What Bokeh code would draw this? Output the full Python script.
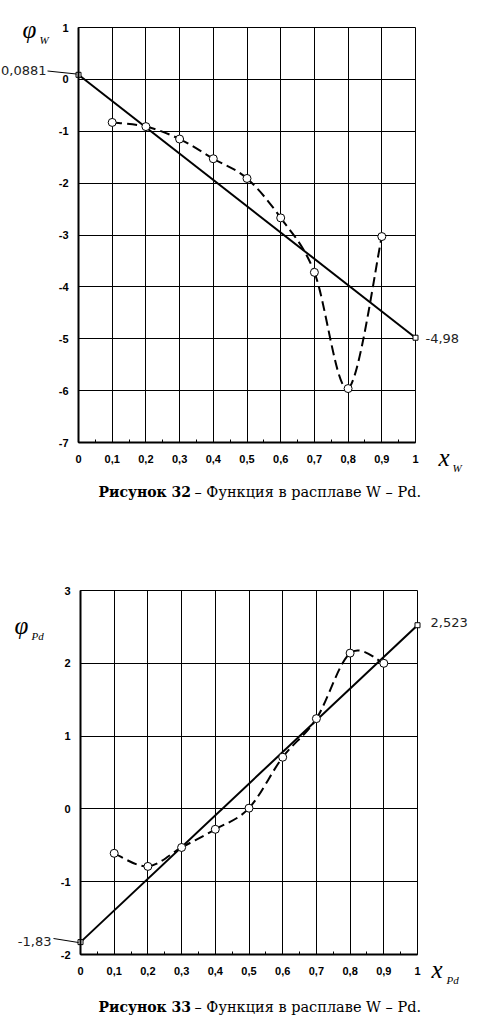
from bokeh.plotting import figure
from bokeh.models import FixedTicker, Label, Grid
from bokeh.layouts import column
from bokeh.embed import file_html
from bokeh.resources import INLINE

# ---------------- data ----------------
x_points = [0.1, 0.2, 0.3, 0.4, 0.5, 0.6, 0.7, 0.8, 0.9]
phi_w = [-0.83, -0.91, -1.15, -1.53, -1.91, -2.67, -3.72, -5.96, -3.03]
phi_pd = [-0.61, -0.79, -0.53, -0.28, 0.01, 0.71, 1.24, 2.14, 2.00]

line_x = [0, 1]
line_w = [0.0881, -4.98]
line_pd = [-1.83, 2.523]
line_w_labels = ["0,0881", "-4,98"]
line_pd_labels = ["-1,83", "2,523"]

x_ticks = [0, 0.1, 0.2, 0.3, 0.4, 0.5, 0.6, 0.7, 0.8, 0.9, 1]
x_tick_labels = ["0", "0,1", "0,2", "0,3", "0,4", "0,5", "0,6", "0,7", "0,8", "0,9", "1"]
x_minor = [0.05, 0.15, 0.25, 0.35, 0.45, 0.55, 0.65, 0.75, 0.85, 0.95]
w_y_ticks = [-7, -6, -5, -4, -3, -2, -1, 0, 1]
w_y_labels = ["-7", "-6", "-5", "-4", "-3", "-2", "-1", "0", "1"]
pd_y_ticks = [-2, -1, 0, 1, 2, 3]
pd_y_labels = ["-2", "-1", "0", "1", "2", "3"]

caption_bold = ["Рисунок 32", "Рисунок 33"]
caption_rest = "– Функция  в расплаве W – Pd."

TICK_FONT = "Liberation Sans"
SERIF = "Liberation Serif"
CAP_FONT = "DejaVu Serif"
VAL_FONT = "DejaVu Sans"
W = 481


def smooth(xs, ys):
    """Bezier control points for the chart's smoothed line (Catmull-Rom)."""
    n = len(xs)
    out = dict(x0=[], y0=[], x1=[], y1=[], cx0=[], cy0=[], cx1=[], cy1=[])
    for i in range(n - 1):
        xp, yp = (xs[i - 1], ys[i - 1]) if i > 0 else (xs[i], ys[i])
        xn, yn = (xs[i + 2], ys[i + 2]) if i + 2 < n else (xs[i + 1], ys[i + 1])
        out["x0"].append(xs[i]); out["y0"].append(ys[i])
        out["x1"].append(xs[i + 1]); out["y1"].append(ys[i + 1])
        out["cx0"].append(xs[i] + (xs[i + 1] - xp) / 6)
        out["cy0"].append(ys[i] + (ys[i + 1] - yp) / 6)
        out["cx1"].append(xs[i + 1] - (xn - xs[i]) / 6)
        out["cy1"].append(ys[i + 1] - (yn - ys[i]) / 6)
    return out


class Frame:
    """Maps canvas pixels to data for a plot box placed at given pixels."""
    def __init__(self, left, right, top, bottom, height, ylo, yhi):
        self.l, self.r, self.t, self.b, self.h = left, right, top, bottom, height
        self.ylo, self.yhi = ylo, yhi
        self.sx = 1.0 / (right - left)
        self.sy = (yhi - ylo) / float(bottom - top)

    def X(self, px):
        return (px - self.l) * self.sx

    def Y(self, py):
        return self.yhi - (py - self.t) * self.sy


def make_fig(fr, yticks, ylabels):
    p = figure(width=W, height=fr.h,
               x_range=(fr.X(0), fr.X(W)), y_range=(fr.Y(fr.h), fr.Y(0)),
               output_backend="svg", toolbar_location=None, min_border=0)
    p.background_fill_color = "white"
    p.border_fill_color = "white"
    p.outline_line_color = None

    xa, ya = p.xaxis[0], p.yaxis[0]
    xa.fixed_location = fr.ylo
    xa.bounds = (0, 1)
    ya.fixed_location = 0
    ya.bounds = (fr.ylo, fr.yhi)
    xa.ticker = FixedTicker(ticks=x_ticks, minor_ticks=x_minor)
    xa.major_label_overrides = {t: l for t, l in zip(x_ticks, x_tick_labels)}
    ya.ticker = FixedTicker(ticks=yticks)
    ya.major_label_overrides = {t: l for t, l in zip(yticks, ylabels)}
    for ax in (xa, ya):
        ax.axis_line_width = 2
        ax.axis_line_color = "black"
        ax.major_tick_in = 3
        ax.major_tick_out = 0
        ax.major_tick_line_color = "black"
        ax.major_label_text_font = TICK_FONT
        ax.major_label_text_font_style = "bold"
        ax.major_label_text_font_size = "11px"
        ax.major_label_text_color = "black"
    xa.minor_tick_in = 3
    xa.minor_tick_out = 0
    xa.minor_tick_line_color = "black"
    ya.minor_tick_line_color = None
    xa.major_label_standoff = 12
    ya.major_label_standoff = 10

    xg, yg = p.xgrid[0], p.ygrid[0]
    xg.ticker = FixedTicker(ticks=x_ticks)
    yg.ticker = FixedTicker(ticks=yticks)
    for g in (xg, yg):
        g.grid_line_color = "black"
        g.grid_line_width = 1
        g.grid_line_alpha = 1
    if "cross_bounds" in Grid.properties():
        xg.cross_bounds = (fr.ylo, fr.yhi)
        yg.cross_bounds = (0, 1)
    else:
        xg.visible = False
        yg.visible = False
        p.segment(x0=x_ticks, y0=[fr.ylo] * len(x_ticks), x1=x_ticks,
                  y1=[fr.yhi] * len(x_ticks), line_color="black", line_width=1)
        p.segment(x0=[0] * len(yticks), y0=yticks, x1=[1] * len(yticks),
                  y1=yticks, line_color="black", line_width=1)
    return p


def draw(p, phi, line_y):
    p.line(line_x, line_y, line_color="black", line_width=2)
    seg = smooth(x_points, phi)
    p.bezier(line_color="black", line_width=2, line_dash="10 5", **seg)
    p.scatter(x_points, phi, marker="circle", size=8, fill_color="white",
              line_color="black", line_width=1)
    p.scatter(line_x, line_y, marker="square", size=5, fill_color="white",
              line_color="black", line_width=1)


def lab(p, x, y, text, font, size, align="left", style="normal", color="black"):
    p.add_layout(Label(x=x, y=y, text=text, text_font=font, text_font_size=size,
                       text_align=align, text_baseline="middle",
                       text_font_style=style, text_color=color))


def leader(p, fr, px0, py0, px1, py1):
    p.line([fr.X(px0), fr.X(px1)], [fr.Y(py0), fr.Y(py1)], line_color="black", line_width=1)


# ---------------- figure 1 (canvas y 0..528) ----------------
f1 = Frame(78, 415, 27, 442, 528, -7, 1)
p1 = make_fig(f1, w_y_ticks, w_y_labels)
draw(p1, phi_w, line_w)
lab(p1, f1.X(46), f1.Y(70), line_w_labels[0], VAL_FONT, "13px", "right", color="#222222")
leader(p1, f1, 47, 70.5, 76, 73.5)
lab(p1, f1.X(425), f1.Y(338), line_w_labels[1], VAL_FONT, "13px", "left", color="#222222")
lab(p1, f1.X(22), f1.Y(29), "φ", SERIF, "25px", "left", "italic")
lab(p1, f1.X(39), f1.Y(39), "W", SERIF, "11px", "left", "italic")
lab(p1, f1.X(438), f1.Y(457), "x", SERIF, "25px", "left", "italic")
lab(p1, f1.X(452), f1.Y(467), "W", SERIF, "11px", "left", "italic")
lab(p1, f1.X(98), f1.Y(491), caption_bold[0], CAP_FONT, "14px", "left", "bold")
lab(p1, f1.X(194), f1.Y(491), caption_rest, CAP_FONT, "14.5px", "left")

# ---------------- figure 2 (page y 528..1030) ----------------
OFF = 528
f2 = Frame(80, 417, 590 - OFF, 954 - OFF, 1030 - OFF, -2, 3)
p2 = make_fig(f2, pd_y_ticks, pd_y_labels)
draw(p2, phi_pd, line_pd)
lab(p2, f2.X(51), f2.Y(941 - OFF), line_pd_labels[0], VAL_FONT, "13px", "right", color="#222222")
leader(p2, f2, 53, 938 - OFF, 78, 942 - OFF)
lab(p2, f2.X(430), f2.Y(622 - OFF), line_pd_labels[1], VAL_FONT, "13px", "left", color="#222222")
lab(p2, f2.X(14), f2.Y(625 - OFF), "φ", SERIF, "25px", "left", "italic")
lab(p2, f2.X(31), f2.Y(635 - OFF), "Pd", SERIF, "11px", "left", "italic")
lab(p2, f2.X(431), f2.Y(969 - OFF), "x", SERIF, "25px", "left", "italic")
lab(p2, f2.X(446), f2.Y(979 - OFF), "Pd", SERIF, "11px", "left", "italic")
lab(p2, f2.X(98), f2.Y(1006 - OFF), caption_bold[1], CAP_FONT, "14px", "left", "bold")
lab(p2, f2.X(194), f2.Y(1006 - OFF), caption_rest, CAP_FONT, "14.5px", "left")

layout = column(p1, p2)
open("out.html", "w").write(file_html(layout, INLINE))
